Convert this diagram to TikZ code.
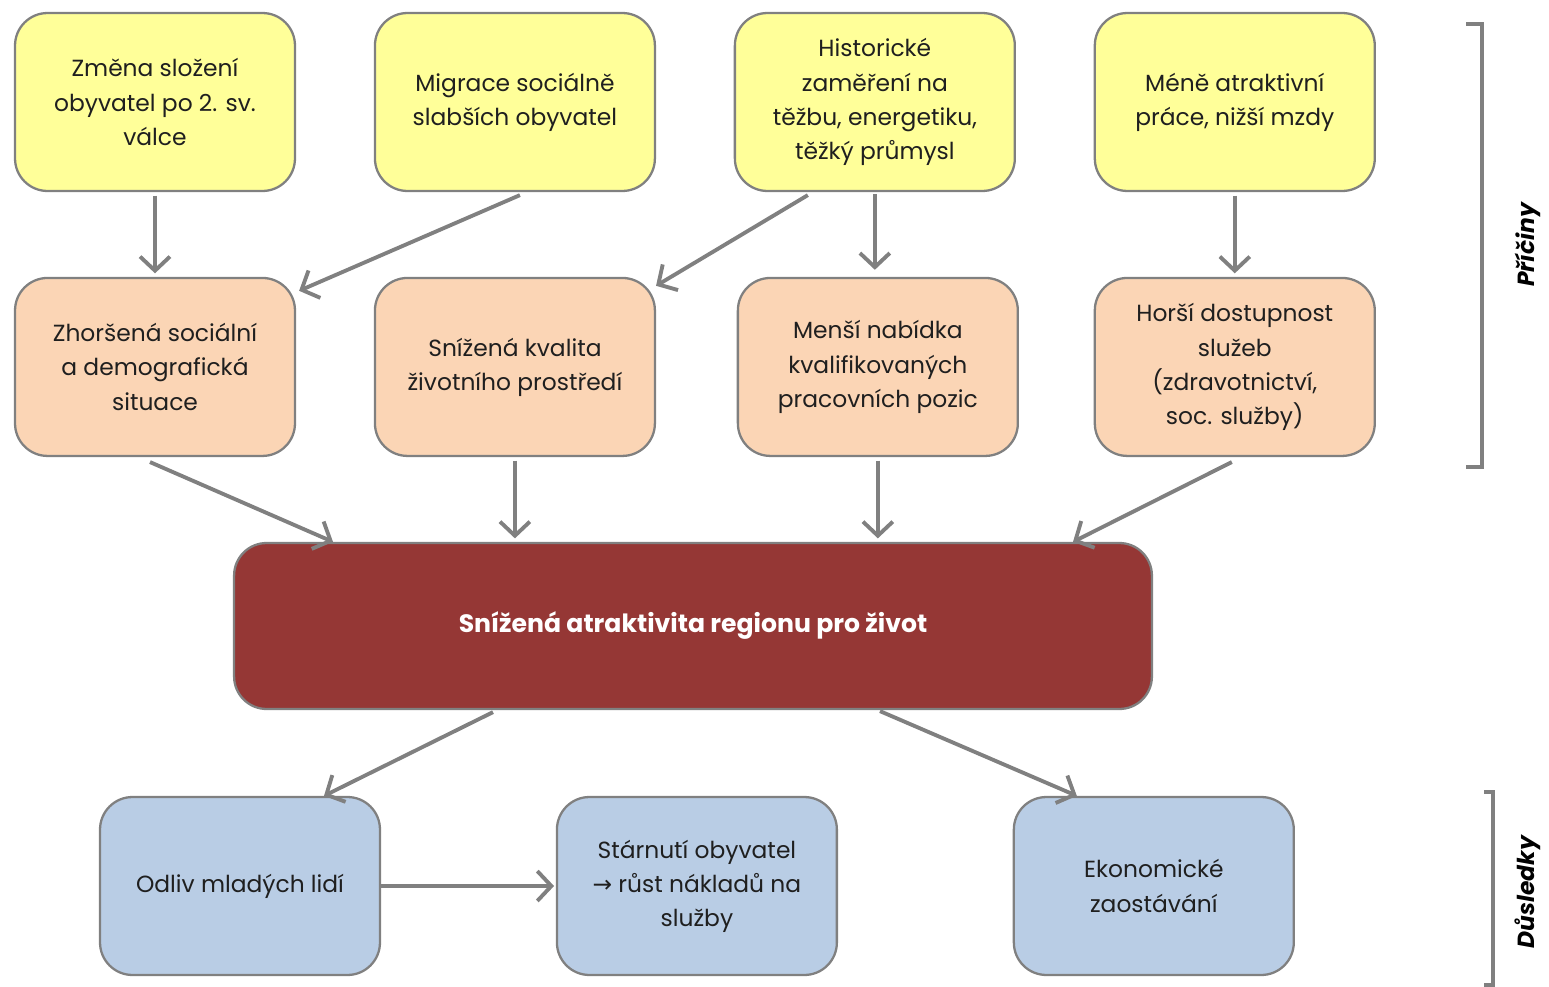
\documentclass[tikz,border=0pt]{standalone}
\usepackage{fontspec}
\setmainfont{Poppins}
\newfontfamily\symfont{DejaVu Sans}
\usetikzlibrary{positioning}
\usetikzlibrary{arrows.meta}
\definecolor{zluta}{HTML}{FFFF99}
\definecolor{broskev}{HTML}{FBD5B5}
\definecolor{modra}{HTML}{B9CDE5}
\definecolor{vinova}{HTML}{953735}
\definecolor{seda}{HTML}{808080}
\definecolor{pismo}{HTML}{1F1F1F}

\begin{document}
\begin{tikzpicture}
[x=0.02cm,y=-0.02cm,node distance=7.2cm,on grid,
  >={Straight Barb[length=8pt,width=17pt]},
  every node/.style={font=\fontsize{13.3}{19.4}\selectfont,text=pismo},
  blok/.style={draw=seda,line width=1.3pt,rounded corners=0.65cm,align=center,
    minimum width=5.6cm,minimum height=3.56cm,inner sep=0pt},
  pricina/.style={blok,fill=zluta},
  dusledek1/.style={blok,fill=broskev},
  dusledek2/.style={blok,fill=modra},
  sipka/.style={->,draw=seda,line width=2.2pt},
  zavorka/.style={draw=seda,line width=2.2pt}]
\useasboundingbox (0,0) rectangle (1549,987);
%% causes
\node[pricina] (zmena) at (155,102) {Změna složení\\obyvatel po 2. sv.\\válce};
\node[pricina] (migrace) [right=of zmena] {Migrace sociálně\\slabších obyvatel};
\node[pricina] (historie) [right=of migrace] {Historické\\zaměření na\\těžbu, energetiku,\\těžký průmysl};
\node[pricina] (prace) [right=of historie] {Méně atraktivní\\práce, nižší mzdy};
%% second row
\node[dusledek1] (zhorsena) [below=5.3cm of zmena] {Zhoršená sociální\\a demografická\\situace};
\node[dusledek1] (prostredi) [below=5.3cm of migrace] {Snížená kvalita\\životního prostředí};
\node[dusledek1] (nabidka) [below=5.3cm of historie,xshift=0.06cm] {Menší nabídka\\kvalifikovaných\\pracovních pozic};
\node[dusledek1] (sluzby) [below=5.3cm of prace] {Horší dostupnost\\služeb\\(zdravotnictví,\\soc. služby)};
%% main problem
\node[blok,fill=vinova,minimum width=18.36cm,minimum height=3.32cm,
  text=white,font=\fontsize{14.3}{19.4}\selectfont\bfseries] (atrakt) at (693,626)
  {Snížená atraktivita regionu pro život};
%% consequences
\node[dusledek2] (odliv) at (240,886) {Odliv mladých lidí};
\node[dusledek2] (starnuti) [right=9.14cm of odliv] {Stárnutí obyvatel\\{\symfont →} růst nákladů na\\služby};
\node[dusledek2] (ekonom) [right=9.14cm of starnuti] {Ekonomické\\zaostávání};
%% arrows
\draw[sipka,shorten <=2pt,shorten >=2pt] (zmena.south) -- (zhorsena.north);
\draw[sipka] ([shift={(5,3)}]migrace.south) -- ([shift={(3,14)}]zhorsena.north east);
\draw[sipka] ([shift={(-67,3)}]historie.south) -- ([shift={(0,9)}]prostredi.north east);
\draw[sipka,shorten <=1pt,shorten >=4pt] (historie.south) -- (historie.south |- nabidka.north);
\draw[sipka,shorten <=2pt,shorten >=2pt] (prace.south) -- (prace.south |- sluzby.north);
\draw[sipka] ([shift={(-5,5)}]zhorsena.south) -- ([shift={(-360,0)}]atrakt.north);
\draw[sipka,shorten <=2pt,shorten >=2pt] (prostredi.south) -- (prostredi.south |- atrakt.north);
\draw[sipka,shorten <=2pt,shorten >=2pt] (nabidka.south) -- (nabidka.south |- atrakt.north);
\draw[sipka] ([shift={(-3,5)}]sluzby.south) -- ([shift={(380,0)}]atrakt.north);
\draw[sipka] ([shift={(-200,2)}]atrakt.south) -- ([shift={(84,0)}]odliv.north);
\draw[sipka] ([shift={(187,1)}]atrakt.south) -- ([shift={(-77,0)}]ekonom.north);
\draw[sipka,shorten >=1pt] (odliv.east) -- (starnuti.west);
%% brackets
\draw[zavorka] (1466,24) -- (1482,24) -- (1482,467) -- (1466,467);
\draw[zavorka] (1484,792) -- (1493,792) -- (1493,985) -- (1484,985);
\node[rotate=90,font=\fontsize{13.3}{19.4}\selectfont\bfseries\itshape,text=black] (priciny) at (1528,245) {Příčiny};
\node[rotate=90,font=\fontsize{13.3}{19.4}\selectfont\bfseries\itshape,text=black] (dusledky) at (1528,892) {Důsledky};
\end{tikzpicture}
\end{document}
